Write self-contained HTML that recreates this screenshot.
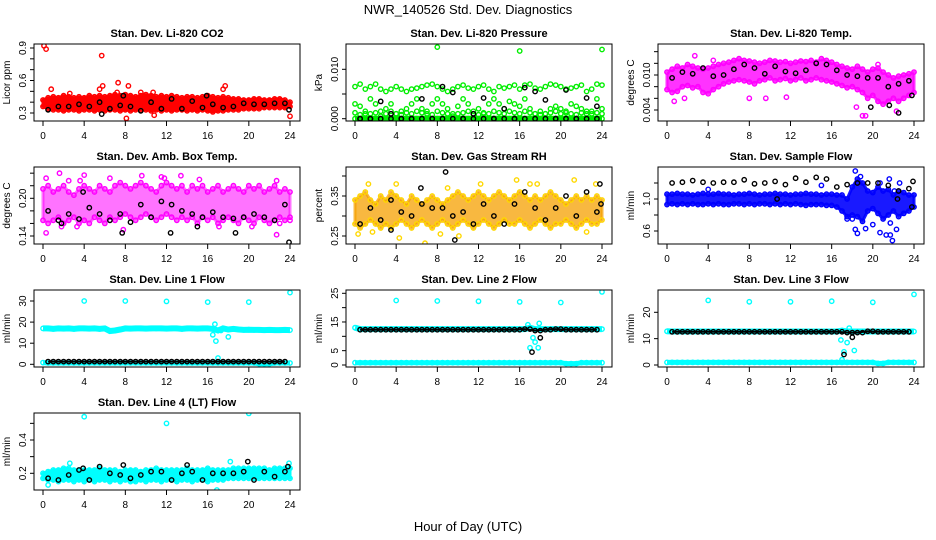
<!DOCTYPE html>
<html><head><meta charset="utf-8"><style>
body{margin:0;background:#fff;}
svg{display:block;font-family:"Liberation Sans",sans-serif;}
</style></head><body>
<svg id="chart" width="936" height="540" viewBox="0 0 936 540">
<rect width="936" height="540" fill="#fff"/>
<text x="468" y="14" text-anchor="middle" font-size="13">NWR_140526 Std. Dev. Diagnostics</text>
<text x="468" y="531" text-anchor="middle" font-size="13">Hour of Day (UTC)</text>
</svg>
<script>
const hours=[0,0.5,1,1.5,2,2.5,3,3.5,4,4.5,5,5.5,6,6.5,7,7.5,8,8.5,9,9.5,10,10.5,11,11.5,12,12.5,13,13.5,14,14.5,15,15.5,16,16.5,17,17.5,18,18.5,19,19.5,20,20.5,21,21.5,22,22.5,23,23.5,24];
const blackHours=[0.5,1.5,2.5,3.5,4.5,5.5,6.5,7.5,8.5,9.5,10.5,11.5,12.5,13.5,14.5,15.5,16.5,17.5,18.5,19.5,20.5,21.5,22.5,23.5];
const xTicks=[0,4,8,12,16,20,24];

// P1 CO2
const co2Hi=[0.42,0.44,0.45,0.44,0.46,0.45,0.44,0.45,0.44,0.46,0.45,0.46,0.45,0.46,0.47,0.46,0.47,0.46,0.45,0.46,0.47,0.46,0.45,0.46,0.45,0.46,0.45,0.44,0.45,0.45,0.44,0.45,0.46,0.45,0.44,0.45,0.44,0.43,0.43,0.42,0.42,0.43,0.43,0.42,0.42,0.43,0.43,0.42,0.40];
const co2Lo=[0.36,0.34,0.33,0.33,0.32,0.33,0.33,0.32,0.33,0.33,0.32,0.33,0.32,0.33,0.33,0.32,0.33,0.32,0.33,0.33,0.33,0.32,0.33,0.32,0.33,0.32,0.33,0.33,0.32,0.33,0.32,0.33,0.32,0.31,0.32,0.32,0.33,0.33,0.33,0.34,0.34,0.34,0.34,0.35,0.35,0.35,0.35,0.35,0.36];
const co2Black=[0.33,0.36,0.36,0.38,0.36,0.40,0.34,0.37,0.36,0.32,0.40,0.34,0.43,0.34,0.41,0.35,0.38,0.35,0.36,0.39,0.38,0.38,0.39,0.39];
const co2OutX=[0.1,0.3,5.7,7.3,0.8,5.5,17.5,17.7,8.1,24,10.8,8.3,9.5,10.7,5.8,7.2,2.6];
const co2OutY=[0.92,0.89,0.83,0.58,0.52,0.52,0.52,0.55,0.25,0.27,0.28,0.55,0.49,0.49,0.55,0.49,0.48];
const co2BOutX=[5.7,23.9,15.9,7.8];
const co2BOutY=[0.29,0.33,0.46,0.46];

// P2 Pressure
const prHi=[0.0065,0.007,0.006,0.0065,0.007,0.006,0.0055,0.006,0.0065,0.006,0.0055,0.006,0.0062,0.0065,0.0068,0.007,0.0065,0.006,0.0055,0.006,0.0065,0.0068,0.0062,0.006,0.0065,0.0068,0.006,0.0055,0.0065,0.0062,0.0065,0.0068,0.006,0.0068,0.007,0.0062,0.006,0.0065,0.007,0.0068,0.0065,0.006,0.0062,0.0065,0.0068,0.0055,0.006,0.007,0.0068];
const prMid=[0.003,0.0025,0.001,0.004,0.003,0.0015,0.002,0.003,0.001,0.0015,0.002,0.003,0.004,0.002,0.0015,0.003,0.004,0.003,0.002,0.001,0.0025,0.004,0.003,0.0015,0.002,0.001,0.003,0.004,0.003,0.002,0.0035,0.003,0.0025,0.004,0.002,0.001,0.0015,0.001,0.002,0.0025,0.002,0.0015,0.003,0.0025,0.002,0.001,0.0015,0.004,0.002];
const prLo=[0.0012,0.0008,0.0015,0.001,0.0012,0.0005,0.001,0.0015,0.001,0.0008,0.0012,0.001,0.0015,0.0012,0.001,0.0008,0.0015,0.0012,0.001,0.0005,0.001,0.0012,0.0015,0.001,0.0008,0.0012,0.001,0.0015,0.0012,0.001,0.0015,0.0012,0.001,0.0015,0.0012,0.001,0.0008,0.001,0.0012,0.0015,0.001,0.0012,0.001,0.0008,0.0012,0.0015,0.001,0.0012,0.001];
const prBase=[0,0,0,0,0,0,0,0,0,0,0,0,0,0,0,0,0,0,0,0,0,0,0,0,0,0,0,0,0,0,0,0,0,0,0,0,0,0,0,0,0,0,0,0,0,0,0,0,0];
const prBlack=[0,0,0.0035,0.001,0,0,0.004,0,0.0065,0.0053,0,0.001,0.0042,0,0.002,0,0.0063,0.0055,0.0038,0,0.0058,0,0.0042,0.0025];
const prBlackBase=[0,0,0,0,0,0,0,0,0,0,0,0,0,0,0,0,0,0,0,0,0,0,0,0];
const prOutX=[8,16,24];
const prOutY=[0.0145,0.0137,0.014];

// P3 Li-820 Temp
const tmHi=[0.0105,0.0110,0.0115,0.0112,0.0118,0.0115,0.0112,0.0110,0.0112,0.0115,0.0118,0.0120,0.0122,0.0125,0.0128,0.0125,0.0124,0.0122,0.0120,0.0122,0.0125,0.0124,0.0122,0.0123,0.0120,0.0122,0.0124,0.0123,0.0125,0.0122,0.0128,0.0125,0.0122,0.0118,0.0115,0.0112,0.0110,0.0115,0.0110,0.0105,0.0110,0.0112,0.0105,0.0100,0.0095,0.0098,0.0100,0.0102,0.0105];
const tmLo=[0.0075,0.0070,0.0072,0.0080,0.0082,0.0078,0.0080,0.0070,0.0068,0.0075,0.0080,0.0085,0.0088,0.0090,0.0092,0.0090,0.0088,0.0085,0.0090,0.0092,0.0095,0.0090,0.0092,0.0094,0.0090,0.0092,0.0095,0.0090,0.0092,0.0095,0.0092,0.0090,0.0088,0.0085,0.0082,0.0078,0.0080,0.0075,0.0070,0.0060,0.0065,0.0055,0.0050,0.0055,0.0060,0.0055,0.0060,0.0065,0.0070];
const tmBlack=[0.0095,0.0105,0.0102,0.0112,0.0098,0.0100,0.0110,0.0118,0.0112,0.0102,0.0115,0.0106,0.0103,0.0108,0.0120,0.0118,0.0108,0.0100,0.0098,0.0095,0.0095,0.0080,0.0085,0.0090];
const tmOutX=[2.7,8,9.6,11.6,19,19.3,18.4,22.3,0.7,1.7,4.5,20.5];
const tmOutY=[0.0133,0.006,0.006,0.0062,0.0030,0.0030,0.0045,0.0038,0.0055,0.006,0.0125,0.0118];
const tmBOutX=[22.5,19.8,21.6,23.8];
const tmBOutY=[0.0035,0.0045,0.0048,0.0065];

// P4 Amb Box Temp
const abHi=[0.215,0.22,0.21,0.215,0.22,0.21,0.205,0.215,0.22,0.215,0.21,0.22,0.215,0.21,0.22,0.225,0.22,0.215,0.22,0.225,0.22,0.215,0.21,0.22,0.225,0.22,0.215,0.22,0.21,0.22,0.215,0.22,0.21,0.215,0.22,0.21,0.215,0.22,0.215,0.21,0.22,0.215,0.22,0.21,0.215,0.22,0.21,0.215,0.21];
const abLo=[0.165,0.16,0.165,0.17,0.16,0.165,0.17,0.16,0.165,0.16,0.17,0.165,0.16,0.17,0.165,0.17,0.175,0.17,0.165,0.17,0.175,0.17,0.165,0.17,0.175,0.17,0.165,0.17,0.165,0.17,0.16,0.17,0.165,0.17,0.16,0.165,0.17,0.165,0.16,0.17,0.165,0.16,0.17,0.165,0.16,0.165,0.17,0.165,0.17];
const abBlack=[0.18,0.165,0.175,0.167,0.185,0.175,0.165,0.175,0.162,0.19,0.17,0.195,0.19,0.18,0.175,0.17,0.178,0.17,0.168,0.17,0.175,0.17,0.165,0.19];
const abOutX=[0.3,0.3,1.6,1.8,3.3,4,3.6,9.6,7.8,11.5,11.8,13.4,15.2,17.1,20.3,22.7,22.7,23,24,2.5,6.5];
const abOutY=[0.232,0.145,0.24,0.155,0.155,0.237,0.228,0.236,0.15,0.234,0.232,0.236,0.23,0.155,0.155,0.142,0.228,0.16,0.165,0.228,0.232];
const abBOutX=[7.7,12.4,15,18.7,23.9,3.9,1.8];
const abBOutY=[0.145,0.145,0.155,0.145,0.13,0.21,0.16];

// P5 Gas Stream RH
const rhHi=[0.34,0.35,0.36,0.34,0.33,0.35,0.34,0.36,0.35,0.34,0.33,0.35,0.34,0.33,0.34,0.35,0.34,0.33,0.34,0.35,0.36,0.35,0.34,0.35,0.36,0.35,0.34,0.35,0.36,0.35,0.34,0.35,0.36,0.35,0.34,0.35,0.34,0.35,0.36,0.35,0.34,0.33,0.34,0.35,0.34,0.35,0.34,0.35,0.34];
const rhLo=[0.28,0.27,0.28,0.29,0.28,0.27,0.28,0.27,0.28,0.29,0.28,0.27,0.28,0.29,0.28,0.27,0.28,0.29,0.28,0.27,0.28,0.29,0.28,0.27,0.28,0.29,0.28,0.27,0.28,0.29,0.28,0.28,0.29,0.28,0.27,0.28,0.29,0.28,0.27,0.28,0.28,0.29,0.28,0.27,0.28,0.29,0.28,0.28,0.29];
const rhBlack=[0.28,0.32,0.29,0.34,0.31,0.30,0.33,0.32,0.32,0.30,0.31,0.28,0.33,0.30,0.28,0.33,0.36,0.32,0.29,0.32,0.35,0.30,0.36,0.31];
const rhOutX=[0.3,1.7,4,4.3,6.8,8.3,9,10.1,15.7,17,17.7,21.3,22.5,23.4,1.3,12.2];
const rhOutY=[0.255,0.26,0.38,0.245,0.232,0.255,0.37,0.25,0.39,0.38,0.38,0.39,0.26,0.38,0.38,0.38];
const rhBOutX=[8.8,9.7,6.4,3.5,23.9,23.8];
const rhBOutY=[0.41,0.24,0.37,0.265,0.33,0.38];

// P6 Sample Flow
const sfHi=[1.06,1.06,1.07,1.06,1.06,1.05,1.06,1.07,1.06,1.06,1.07,1.06,1.06,1.05,1.06,1.06,1.07,1.06,1.05,1.06,1.06,1.07,1.06,1.06,1.05,1.06,1.06,1.07,1.06,1.06,1.05,1.06,1.06,1.05,1.05,1.0,1.15,1.25,1.20,1.10,1.08,1.15,1.10,1.12,1.05,1.10,1.08,1.05,1.05];
const sfLo=[0.93,0.94,0.93,0.94,0.93,0.94,0.93,0.93,0.94,0.93,0.94,0.93,0.93,0.94,0.94,0.93,0.94,0.93,0.94,0.94,0.93,0.94,0.93,0.94,0.93,0.94,0.93,0.92,0.93,0.93,0.93,0.92,0.92,0.90,0.85,0.78,0.80,0.78,0.72,0.85,0.88,0.82,0.75,0.80,0.85,0.78,0.82,0.85,0.90];
const sfBlack=[1.20,1.21,1.23,1.21,1.20,1.21,1.21,1.24,1.19,1.20,1.22,1.18,1.26,1.21,1.27,1.25,1.15,1.18,1.20,1.20,1.20,1.17,1.10,1.13];
const sfOutX=[18.3,18.5,19.3,20,20.7,21.3,21.7,21.9,21.7,22.3,18.3,18.8,20.7,21.6,22.1,22.6,15,4,17.5,18];
const sfOutY=[0.62,0.57,0.63,0.68,0.58,0.55,0.55,0.48,0.70,0.62,1.35,1.28,1.2,1.25,1.1,1.2,1.17,1.12,0.75,0.75];
const sfBOutX=[10.7,23.8,22.4,23.9];
const sfBOutY=[1.0,0.9,1.0,1.22];

// P7 Line 1
const l1Top=[17,17,16.8,17,16.9,17,16.8,17,17,16.9,17,16.8,17,15.8,16,16.5,17,16.9,17,17,16.9,17,17,17,16.9,17,17,16.8,17,17,16.9,17,17,16.8,16,17,16.5,16.8,16.5,16.3,16.4,16.3,16.3,16.2,16.3,16.2,16.2,16.3,16.2];
const l1Bottom=[0.8,0.6,0.6,0.6,0.6,0.6,0.6,0.6,0.6,0.6,0.6,0.6,0.6,0.6,0.6,0.6,0.6,0.6,0.6,0.6,0.6,0.6,0.6,0.6,0.6,0.6,0.6,0.6,0.6,0.6,0.6,0.6,0.6,0.6,0.6,0.6,0.6,0.6,0.6,0.6,0.6,0.6,0.3,0.3,0.3,0.6,0.6,0.6,0.6];
const l1Black=[1.3,1.3,1.3,1.3,1.3,1.3,1.3,1.3,1.3,1.3,1.3,1.3,1.3,1.3,1.3,1.3,1.3,1.3,1.3,1.3,1.3,1.3,1.3,1.3];
const l1OutX=[4,8,12,16,20,24,16.7,16.5,16.8,17,18,17.3];
const l1OutY=[30,30,29.8,29.5,29.5,34,19,14,11,3,13,16];

// P8 Line 2
const l2Top=[13,12.5,12.5,12.5,12.5,12.5,12.5,12.5,12.5,12.5,12.5,12.5,12.5,12.5,12.5,12.5,12.5,12.5,12.5,12.5,12.5,12.5,12.5,12.5,12.5,12.5,12.5,12.5,12.5,12.5,12.5,12.5,12.5,12.5,13,12.5,12.5,12.5,12.5,12.5,12.5,12.5,12.5,12.5,12.5,12.5,12.5,12.5,12.5];
const l2Bottom=[0.8,0.8,0.8,0.8,0.8,0.8,0.8,0.8,0.8,0.8,0.8,0.8,0.8,0.8,0.8,0.8,0.8,0.8,0.8,0.8,0.8,0.8,0.8,0.8,0.8,0.8,0.8,0.8,0.8,0.8,0.8,0.8,0.8,0.8,0.8,0.8,0.8,0.8,0.8,0.8,0.8,0.5,0.5,0.5,0.8,0.8,0.8,0.8,0.8];
const l2Black=[12.3,12.3,12.3,12.3,12.3,12.3,12.3,12.3,12.3,12.3,12.3,12.3,12.3,12.3,12.3,12.3,12.5,12,12.3,12.5,12.3,12.3,12.3,12.3];
const l2OutX=[4,8,12,16,20,24,17,17.3,17.5,17.8,16.8,17.9];
const l2OutY=[22.5,22.3,22.2,22,21.8,25.5,6,9.5,8,6,14,14.5];
const l2BOutX=[17.2,18];
const l2BOutY=[4.5,9.5];

// P9 Line 3
const l3Top=[12.8,12.7,12.7,12.7,12.7,12.7,12.7,12.7,12.7,12.7,12.7,12.7,12.7,12.7,12.7,12.7,12.7,12.7,12.7,12.7,12.7,12.7,12.7,12.7,12.7,12.7,12.7,12.7,12.7,12.7,12.7,12.7,12.7,12.7,13,12.7,12.7,12.7,12.7,12.7,12.7,12.7,12.7,12.7,12.7,12.7,12.7,12.7,12.7];
const l3Bottom=[1,1,1,1,1,1,1,1,1,1,1,1,1,1,1,1,1,1,1,1,1,1,1,1,1,1,1,1,1,1,1,1,1,1,1,1,1,1,1,1,1,0.6,0.6,1,1,1,1,1,1];
const l3Black=[12.6,12.6,12.6,12.6,12.6,12.6,12.6,12.6,12.6,12.6,12.6,12.6,12.6,12.6,12.6,12.6,12.6,12.3,12.3,12.8,12.6,12.6,12.6,12.6];
const l3OutX=[4,8,12,16,20,24,16.9,17.2,17.5,17.7,18.2,17];
const l3OutY=[24.5,24,24,24.2,23.8,26.8,9.5,5,8.5,14,5.5,2];
const l3BOutX=[17.2,18];
const l3BOutY=[4,10.5];

// P10 Line 4
const l4Hi=[0.2,0.21,0.22,0.22,0.23,0.23,0.22,0.22,0.22,0.22,0.22,0.23,0.22,0.22,0.22,0.21,0.22,0.22,0.22,0.21,0.22,0.22,0.23,0.22,0.22,0.22,0.22,0.22,0.23,0.22,0.22,0.22,0.23,0.22,0.22,0.22,0.22,0.23,0.23,0.23,0.23,0.23,0.23,0.23,0.22,0.23,0.23,0.23,0.23];
const l4Lo=[0.17,0.16,0.16,0.15,0.16,0.16,0.15,0.16,0.15,0.16,0.15,0.16,0.16,0.15,0.16,0.15,0.16,0.15,0.15,0.16,0.15,0.16,0.16,0.15,0.16,0.16,0.15,0.16,0.16,0.15,0.16,0.16,0.15,0.16,0.16,0.16,0.17,0.17,0.17,0.17,0.17,0.17,0.17,0.17,0.17,0.17,0.17,0.17,0.17];
const l4Black=[0.17,0.16,0.19,0.22,0.16,0.24,0.2,0.19,0.17,0.19,0.21,0.21,0.16,0.2,0.21,0.16,0.2,0.2,0.2,0.21,0.16,0.21,0.18,0.21];
const l4OutX=[4,12,20,16.9,0.5,18.2,2.6,23.9];
const l4OutY=[0.54,0.5,0.56,0.1,0.13,0.27,0.26,0.26];
const l4BOutX=[19.9,3.9,14,7.8,23.8];
const l4BOutY=[0.27,0.23,0.25,0.25,0.24];

const NS="http://www.w3.org/2000/svg";
const svg=document.getElementById('chart');
function mk(tag,attrs,parent){const e=document.createElementNS(NS,tag);for(const k in attrs)e.setAttribute(k,attrs[k]);(parent||svg).appendChild(e);return e;}

const panels=[
 {title:"Stan. Dev. Li-820 CO2",ylab:"Licor ppm",col:0,top:44,v0:0.3,p0:113,v1:0.9,p1:48,ticks:[0.3,0.4,0.5,0.6,0.7,0.8,0.9],labels:[0.3,0.6,0.9],fmt:1,
  draw:p=>{band(p,co2Hi,co2Lo,"#ff0000",1);pts(p,co2OutX,co2OutY,"#ff0000");pts(p,blackHours,co2Black,"#000");pts(p,co2BOutX,co2BOutY,"#000");}},
 {title:"Stan. Dev. Li-820 Pressure",ylab:"kPa",col:1,top:44,v0:0,p0:118.7,v1:0.01,p1:69.3,ticks:[0,0.005,0.01],labels:[0,0.01],fmt:3,
  draw:p=>{row(p,prBase,"#00ee00",6);pts(p,hours,prHi,"#00ee00");pts(p,hours,prMid,"#00ee00");pts(p,hours,prLo,"#00ee00");pts(p,prOutX,prOutY,"#00ee00");pts(p,blackHours,prBlackBase,"#000");pts(p,blackHours,prBlack,"#000");}},
 {title:"Stan. Dev. Li-820 Temp.",ylab:"degrees C",col:2,top:44,v0:0.004,p0:110,v1:0.010,p1:75,ticks:[0.004,0.006,0.008,0.010,0.012,0.014],labels:[0.004,0.010],fmt:3,
  draw:p=>{band(p,tmHi,tmLo,"#ff00ff",0.8);pts(p,tmOutX,tmOutY,"#ff00ff");pts(p,blackHours,tmBlack,"#000");pts(p,tmBOutX,tmBOutY,"#000");}},
 {title:"Stan. Dev. Amb. Box Temp.",ylab:"degrees C",col:0,top:167,v0:0.14,p0:236,v1:0.20,p1:198.3,ticks:[0.14,0.16,0.18,0.20,0.22,0.24],labels:[0.14,0.20],fmt:2,
  draw:p=>{band(p,abHi,abLo,"#ff00ff",0.55);pts(p,abOutX,abOutY,"#ff00ff");pts(p,blackHours,abBlack,"#000");pts(p,abBOutX,abBOutY,"#000");}},
 {title:"Stan. Dev. Gas Stream RH",ylab:"percent",col:1,top:167,v0:0.25,p0:236,v1:0.35,p1:196,ticks:[0.25,0.30,0.35,0.40],labels:[0.25,0.35],fmt:2,
  draw:p=>{band(p,rhHi,rhLo,"#f5a000",0.75,"#ffd800");pts(p,rhOutX,rhOutY,"#ffd800");pts(p,blackHours,rhBlack,"#000");pts(p,rhBOutX,rhBOutY,"#000");}},
 {title:"Stan. Dev. Sample Flow",ylab:"ml/min",col:2,top:167,v0:0.6,p0:231,v1:1.0,p1:199,ticks:[0.6,0.8,1.0,1.2],labels:[0.6,1.0],fmt:1,
  draw:p=>{band(p,sfHi,sfLo,"#0000ff",0.9);pts(p,sfOutX,sfOutY,"#0000ff");pts(p,blackHours,sfBlack,"#000");pts(p,sfBOutX,sfBOutY,"#000");}},
 {title:"Stan. Dev. Line 1 Flow",ylab:"ml/min",col:0,top:290,v0:0,p0:364.3,v1:30,p1:301,ticks:[0,10,20,30],labels:[0,10,20,30],fmt:0,
  draw:p=>{row(p,l1Top,"#00ffff",6);row(p,l1Bottom,"#00ffff",5);pts(p,l1OutX,l1OutY,"#00ffff");rowB(p,l1Black,"#000");}},
 {title:"Stan. Dev. Line 2 Flow",ylab:"ml/min",col:1,top:290,v0:0,p0:365,v1:25,p1:293.3,ticks:[0,5,10,15,20,25],labels:[0,5,15,25],fmt:0,
  draw:p=>{row(p,l2Top,"#00ffff",6);row(p,l2Bottom,"#00ffff",5);pts(p,l2OutX,l2OutY,"#00ffff");rowB(p,l2Black,"#000");pts(p,l2BOutX,l2BOutY,"#000");}},
 {title:"Stan. Dev. Line 3 Flow",ylab:"ml/min",col:2,top:290,v0:0,p0:365,v1:20,p1:312.3,ticks:[0,10,20],labels:[0,10,20],fmt:0,
  draw:p=>{row(p,l3Top,"#00ffff",6);row(p,l3Bottom,"#00ffff",5);pts(p,l3OutX,l3OutY,"#00ffff");rowB(p,l3Black,"#000");pts(p,l3BOutX,l3BOutY,"#000");}},
 {title:"Stan. Dev. Line 4 (LT) Flow",ylab:"ml/min",col:0,top:413,v0:0.2,p0:473.3,v1:0.4,p1:440,ticks:[0.2,0.3,0.4,0.5],labels:[0.2,0.4],fmt:1,
  draw:p=>{band(p,l4Hi,l4Lo,"#00ffff",1);pts(p,l4OutX,l4OutY,"#00ffff");pts(p,blackHours,l4Black,"#000");pts(p,l4BOutX,l4BOutY,"#000");}}
];

function X(p,h){return p.off+43+h*247/24;}
function Y(p,v){return p.p0+(v-p.v0)*(p.p1-p.p0)/(p.v1-p.v0);}
function circ(p,x,y,color){
  const c=mk('circle',{cx:X(p,x).toFixed(1),cy:Y(p,y).toFixed(1),r:2.2,fill:'none',stroke:color,'stroke-width':1.4},p.g);
  
  
}
function pts(p,xs,ys,color){for(let i=0;i<ys.length;i++)circ(p,xs[i],ys[i],color);}
function band(p,hi,lo,color,op,ptColor){
  let s=[];
  for(let i=0;i<hi.length;i++)s.push(X(p,hours[i]).toFixed(1)+','+Y(p,hi[i]).toFixed(1));
  for(let i=lo.length-1;i>=0;i--)s.push(X(p,hours[i]).toFixed(1)+','+Y(p,lo[i]).toFixed(1));
  const poly=mk('polygon',{points:s.join(' '),fill:color,'fill-opacity':op,stroke:color,'stroke-width':3,'stroke-linejoin':'round','stroke-opacity':op},p.g);
  
  
  pts(p,hours,hi,ptColor||color);pts(p,hours,lo,ptColor||color);
}
function row(p,vals,color,w){
  const s=vals.map((v,i)=>X(p,hours[i]).toFixed(1)+','+Y(p,v).toFixed(1)).join(' ');
  const l=mk('polyline',{points:s,fill:'none',stroke:color,'stroke-width':w},p.g);
  
  
  pts(p,hours,vals,color);
}
function rowB(p,vals,color){
  const s=vals.map((v,i)=>X(p,blackHours[i]).toFixed(1)+','+Y(p,v).toFixed(1)).join(' ');
  const l=mk('polyline',{points:s,fill:'none',stroke:color,'stroke-width':2},p.g);
  
  
  pts(p,blackHours,vals,color);
  const mids=vals.slice(0,vals.length-1);
  for(let i=0;i<mids.length;i++)circ(p,blackHours[i]+0.5,mids[i],color);
}

panels.forEach((p,pi)=>{
  p.off=p.col*312;
  const L=p.off+34,R=p.off+300,T=p.top,B=p.top+77;
  const g=mk('g',{});
  
  
  const t=mk('text',{x:(L+R)/2,y:T-7,'text-anchor':'middle','font-size':11,'font-weight':'bold'},g);
  t.textContent=p.title;
  
  
  const clip=mk('clipPath',{id:'clip'+pi},g);
  mk('rect',{x:L,y:T,width:R-L,height:B-T},clip);
  p.g=mk('g',{'clip-path':'url(#clip'+pi+')'},g);
  
  
  p.draw(p);
  const box=mk('rect',{x:L,y:T,width:R-L,height:B-T,fill:'none',stroke:'#000','stroke-width':1},g);
  
  
  const xa=mk('line',{x1:X(p,0),x2:X(p,24),y1:B,y2:B,stroke:'#000'},g);
  
  
  xTicks.forEach(h=>{
    const tk=mk('line',{x1:X(p,h),x2:X(p,h),y1:B,y2:B+5,stroke:'#000'},g);
    
    
    const lb=mk('text',{x:X(p,h),y:B+18,'text-anchor':'middle','font-size':10},g);
    lb.textContent=h;
    
    
  });
  const ya=mk('line',{x1:L,x2:L,y1:Y(p,p.ticks[0]),y2:Y(p,p.ticks[p.ticks.length-1]),stroke:'#000'},g);
  
  
  p.ticks.forEach(v=>{
    const yv=Y(p,v); if(yv<T-1) return;
    const tk=mk('line',{x1:L-4,x2:L,y1:yv,y2:yv,stroke:'#000'},g);
    
    
  });
  p.labels.forEach(v=>{
    const y=Y(p,v),x=L-8;
    const lb=mk('text',{x:x,y:y,'text-anchor':'middle','font-size':10,transform:'rotate(-90 '+x+' '+y+')'},g);
    lb.textContent=v.toFixed(p.fmt);
    
    
  });
  const yx=L-24,yy=(T+B)/2;
  const yl=mk('text',{x:yx,y:yy,'text-anchor':'middle','font-size':10,transform:'rotate(-90 '+yx+' '+yy+')'},g);
  yl.textContent=p.ylab;
  
  
});
</script>
</body></html>
